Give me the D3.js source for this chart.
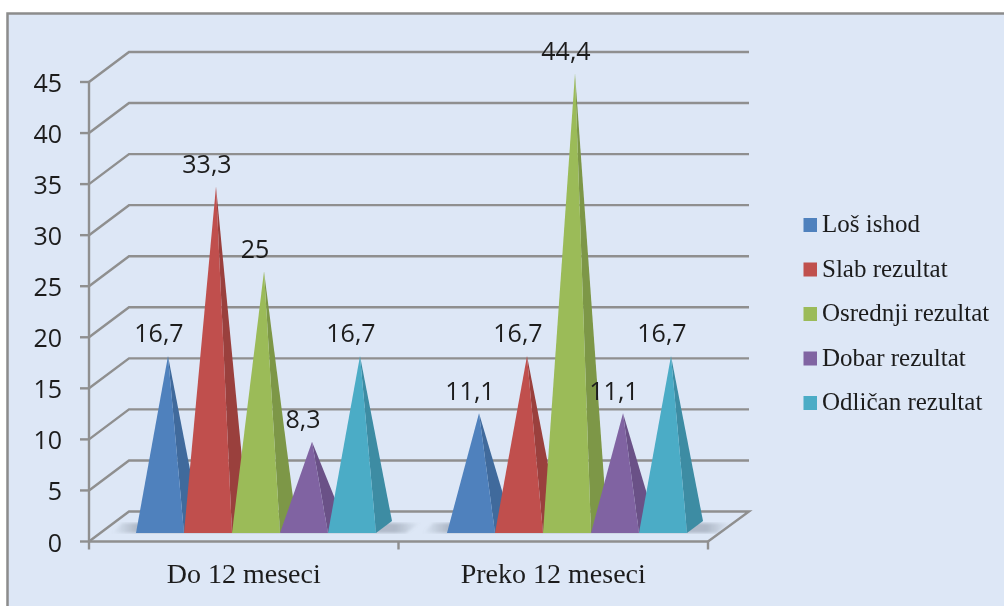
<!DOCTYPE html>
<html><head><meta charset="utf-8">
<script src="https://cdn.jsdelivr.net/npm/d3@7/dist/d3.min.js"></script>
<style>html,body{margin:0;padding:0;background:#fff;overflow:hidden}svg{display:block}</style>
</head><body><svg id="c" width="1004" height="606"></svg>
<script>
const categories = ["Do 12 meseci", "Preko 12 meseci"];
const seriesNames = ["Loš ishod", "Slab rezultat", "Osrednji rezultat", "Dobar rezultat", "Odličan rezultat"];
const losIshod = [16.7, 11.1];
const slabRezultat = [33.3, 16.7];
const osrednjiRezultat = [25, 44.4];
const dobarRezultat = [8.3, 11.1];
const odlicanRezultat = [16.7, 16.7];
const seriesValues = [losIshod, slabRezultat, osrednjiRezultat, dobarRezultat, odlicanRezultat];
const yTicks = [0, 5, 10, 15, 20, 25, 30, 35, 40, 45];
const frontColors = ["#4f81bd", "#c0504d", "#9bbb59", "#8064a2", "#4bacc6"];
const sideColors = ["#3f6a9c", "#9a3f3c", "#7d9747", "#6a5187", "#3c8ca3"];

const svg = d3.select("#c");
const defs = svg.append("defs");
const grad = defs.append("linearGradient").attr("id","sh").attr("x1",0).attr("x2",1).attr("y1",0).attr("y2",0);
[[0,0],[0.08,0.55],[0.92,0.55],[1,0]].forEach(([o,a])=>grad.append("stop").attr("offset",o).attr("stop-color","#8b95a3").attr("stop-opacity",a));
defs.append("filter").attr("id","blur").append("feGaussianBlur").attr("stdDeviation",1.5);
defs.append("filter").attr("id","soft").attr("x","-10%").attr("y","-10%").attr("width","120%").attr("height","120%").append("feGaussianBlur").attr("stdDeviation",0.45);
defs.append("filter").attr("id","softText").attr("x","-5%").attr("y","-5%").attr("width","110%").attr("height","110%").append("feGaussianBlur").attr("stdDeviation",0.3);

svg.append("rect").attr("x",7.5).attr("y",13.5).attr("width",1020).attr("height",620)
  .attr("fill","#dde7f6").attr("stroke","#8c8c8c").attr("stroke-width",2.5);

// Plot frame
const frontX0 = 89, frontX1 = 708, depthX = 40, depthY = 30;
const y = d3.scaleLinear().domain([0,45]).range([541.5,82]);
const xCat = d3.scaleBand().domain(categories).range([frontX0, frontX1]);
const axisColor = "#8f8f8f";
const g = svg.append("g").attr("filter","url(#soft)");

// Walls: gridlines
const grid = g.append("g").attr("fill","none").attr("stroke",axisColor).attr("stroke-width",2.4);
yTicks.forEach(t=>{
  const pts = t===0
    ? [[frontX0,y(t)],[frontX0+depthX,y(t)-depthY],[frontX1+depthX+1,y(t)-depthY],[frontX1,y(t)]]
    : [[frontX0,y(t)],[frontX0+depthX,y(t)-depthY],[frontX1+depthX+1,y(t)-depthY]];
  grid.append("path").attr("d",d3.line()(pts));
});

// Floor shadows
const baseY = 533, bw = 48, offX = 16, offY = 12;
const firstBase = {[categories[0]]:136, [categories[1]]:447};
categories.forEach(c=>{
  const l = firstBase[c], r = l+5*bw;
  g.append("polygon").attr("filter","url(#blur)").attr("fill","url(#sh)")
    .attr("points",[[l-24,baseY],[l-14,baseY-10],[r+44,baseY-10],[r+30,baseY]].join(" "));
});

// Pyramids, drawn from the data scale
categories.forEach((c,ci)=>{
  const x0 = firstBase[c];
  seriesValues.forEach((vals,si)=>{
    const v = vals[ci];
    const l = x0+si*bw, r = l+bw;
    const ax = l+(bw+offX)/2, ay = y(v)-15;
    const sg = g.append("g");
    sg.append("polygon").attr("fill",sideColors[si])
      .attr("points",[[ax,ay],[r,baseY],[r+offX,baseY-offY]].join(" "));
    sg.append("polygon").attr("fill",frontColors[si])
      .attr("points",[[ax,ay],[l,baseY],[r,baseY]].join(" "));
  });
});

// Axes
const axes = g.append("g").attr("stroke",axisColor).attr("stroke-width",2.4).attr("fill","none");
axes.append("path").attr("d",d3.line()([[frontX0,y(45)],[frontX0,y(0)]]));
axes.append("path").attr("d",d3.line()([[frontX0,y(0)],[frontX1,y(0)]]));
yTicks.forEach(t=>axes.append("path").attr("d",d3.line()([[frontX0-9,y(t)],[frontX0,y(t)]])));
[frontX0, xCat(categories[1]), frontX1].forEach(x=>axes.append("path").attr("d",d3.line()([[x,y(0)],[x,y(0)+8]])));

// Text
const sans = "'Open Sans','Noto Sans',sans-serif", serif = "'Liberation Serif',serif";
const txt = svg.append("g").attr("fill","#1c1c1c").attr("filter","url(#softText)");
yTicks.forEach(t=>txt.append("text").attr("x",62).attr("y",y(t)+10).attr("text-anchor","end")
  .attr("font-family",sans).attr("font-size",25).text(t));
categories.forEach(c=>txt.append("text").attr("x",xCat(c)+xCat.bandwidth()/2).attr("y",583)
  .attr("text-anchor","middle").attr("font-family",serif).attr("font-size",28).text(c));
categories.forEach((c,ci)=>seriesValues.forEach((vals,si)=>{
  const v = vals[ci];
  const ax = firstBase[c]+si*bw+(bw+offX)/2;
  txt.append("text").attr("x",ax-9).attr("y",y(v)-15-13.5).attr("text-anchor","middle")
    .attr("font-family",sans).attr("font-size",25).text(String(v).replace(".",","));
}));

// Legend
const legendY = d3.scalePoint().domain(seriesNames).range([225,403]);
seriesNames.forEach((n,i)=>{
  svg.append("rect").attr("x",803.5).attr("y",legendY(n)-7).attr("width",13.5).attr("height",14).attr("fill",frontColors[i]);
  txt.append("text").attr("x",822).attr("y",legendY(n)+7).attr("font-family",serif).attr("font-size",25).text(n);
});
</script></body></html>
